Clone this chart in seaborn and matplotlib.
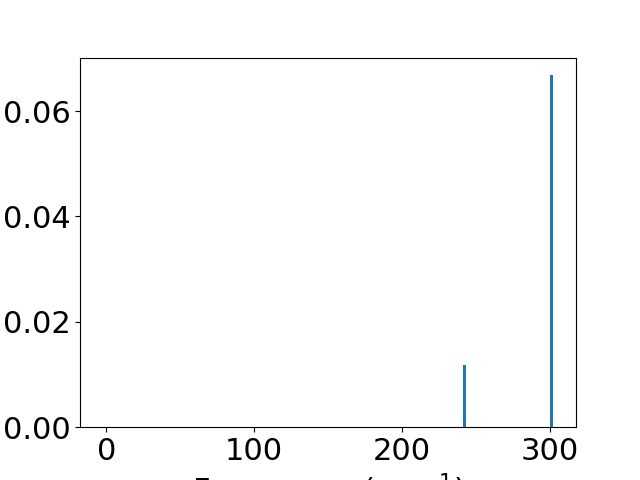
import numpy as np
import pandas as pd
import matplotlib
matplotlib.use('Agg')
import matplotlib.pyplot as plt
import seaborn as sns

# --- DATA ---
frekanslar = [-1.5, 242.4, 301.3]      # cm^-1 (ilk mod: akustik, siddet 0)
siddetler = [0.0, 0.0118, 0.0668]
BAR_GENISLIGI = 2.0                     # cm^-1

plt.rcParams['font.size'] = 22

df = pd.DataFrame({'freq': frekanslar, 'intensity': siddetler})

fig, ax = plt.subplots(figsize=(6.4, 4.8), dpi=100)

# native_scale: width is relative to the smallest spacing between positions
min_aralik = np.min(np.diff(np.sort(df['freq'].unique())))
sns.barplot(data=df, x='freq', y='intensity', native_scale=True,
            width=BAR_GENISLIGI / min_aralik, color='#1f77b4',
            saturation=1, errorbar=None, ax=ax)

ax.set_xlabel('Frequency (cm$^{-1}$)')
ax.set_ylabel('')
ax.set_xticks([0, 100, 200, 300])
ax.set_yticks([0.0, 0.02, 0.04, 0.06])
ax.set_yticklabels(['0.00', '0.02', '0.04', '0.06'])

plt.savefig('out.png', dpi=100)
plt.close()
